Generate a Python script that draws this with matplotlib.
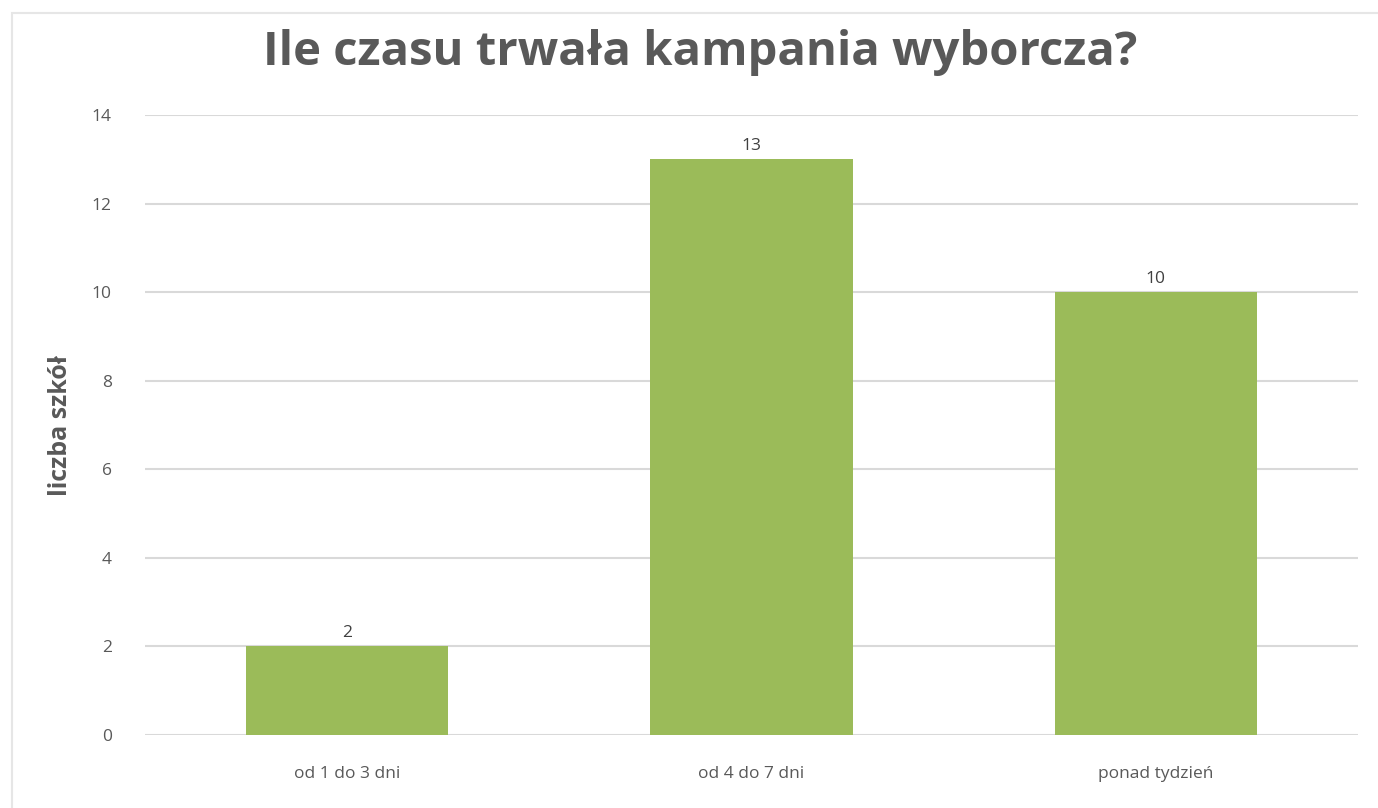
import matplotlib

matplotlib.use("Agg")
import matplotlib.pyplot as plt
from matplotlib.patches import Rectangle

categories = ["od 1 do 3 dni", "od 4 do 7 dni", "ponad tydzień"]
counts = [2, 13, 10]
y_ticks = [0, 2, 4, 6, 8, 10, 12, 14]

BAR_COLOR = "#9BBB59"
TEXT_COLOR = "#595959"
GRID_COLOR = "#D9D9D9"

plt.rcParams["font.family"] = ["Open Sans", "DejaVu Sans"]

fig = plt.figure(figsize=(13.78, 8.08), dpi=100)
# light chart frame (top/left visible in the source screenshot)
fig.patches.append(
    Rectangle((12 / 1378, -0.1), 1.2, 1 - 13 / 808 + 0.1, transform=fig.transFigure,
              fill=False, edgecolor="#E6E6E6", linewidth=1.5)
)

ax = fig.add_axes([145 / 1378, 1 - 735 / 808, 1213 / 1378, 620 / 808])
x = range(len(categories))
bars = ax.bar(x, counts, width=0.5, color=BAR_COLOR, zorder=3)
ax.bar_label(bars, labels=[str(v) for v in counts], padding=4, fontsize=12.5, color="#404040")

ax.set_xlim(-0.5, len(categories) - 0.5)
ax.set_ylim(0, 14)
ax.set_yticks(y_ticks)
ax.set_xticks(list(x))
ax.set_xticklabels(categories)
ax.tick_params(axis="both", length=0, labelsize=12.5, labelcolor=TEXT_COLOR)
ax.tick_params(axis="y", pad=24)
ax.tick_params(axis="x", pad=22)
ax.grid(axis="y", color=GRID_COLOR, linewidth=1.5, zorder=0)
for s in ax.spines.values():
    s.set_visible(False)

ax.set_ylabel("liczba szkół", fontsize=18, fontweight="bold", color=TEXT_COLOR, va="center")
ax.yaxis.set_label_coords((60 - 145) / 1213, 0.5)
fig.text(700 / 1378, 1 - 52 / 808, "Ile czasu trwała kampania wyborcza?", ha="center", va="center",
         fontsize=34, fontweight="bold", color=TEXT_COLOR)

fig.savefig("out.png", dpi=100)
